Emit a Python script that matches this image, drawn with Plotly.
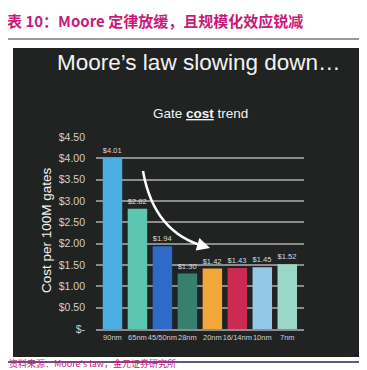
import plotly.graph_objects as go

nodes = ["90nm", "65nm", "45/50nm", "28nm", "20nm", "16/14nm", "10nm", "7nm"]
cost = [4.01, 2.82, 1.94, 1.30, 1.42, 1.43, 1.45, 1.52]
bar_colors = ["#4aafe0", "#5cc6b1", "#2e6ac6", "#36806f", "#f2a73a", "#cd2a52", "#94c8e9", "#9bd7c9"]
y_tickvals = [0, 0.5, 1.0, 1.5, 2.0, 2.5, 3.0, 3.5, 4.0, 4.5]
y_ticktext = ["$-", "$0.50", "$1.00", "$1.50", "$2.00", "$2.50", "$3.00", "$3.50", "$4.00", "$4.50"]

W, H = 367, 370
L, R, T, B = 88, 296, 129, 321


def fx(px):
    return (px - L) / (R - L)


def fy(py):
    return (B - py) / (B - T)


FONT = "Liberation Sans, Arial, sans-serif"
CJK = "Noto Sans CJK SC, sans-serif"
MAG = "#c8197c"

fig = go.Figure()
fig.add_trace(go.Bar(
    x=nodes, y=cost, marker=dict(color=bar_colors, line=dict(width=0)),
    width=0.78,
    texttemplate="$%{y:.2f}", textposition="outside",
    textfont=dict(size=8, color="#d8d8d8", family=FONT),
    cliponaxis=False, hoverinfo="skip",
))

shapes = [
    dict(type="rect", xref="paper", yref="paper", x0=fx(5), x1=fx(370), y0=fy(349), y1=fy(40),
         fillcolor="#212322", line=dict(width=0), layer="below"),
    dict(type="line", xref="paper", yref="paper", x0=fx(0), x1=fx(367), y0=fy(31), y1=fy(31),
         line=dict(color="#9a9a9a", width=2), layer="below"),
    dict(type="line", xref="paper", yref="paper", x0=fx(0), x1=fx(367), y0=fy(354), y1=fy(354),
         line=dict(color="#5c5c7c", width=2), layer="below"),
    dict(type="path", xref="paper", yref="paper",
         path=f"M {fx(135)},{fy(163)} Q {fx(146)},{fy(226)} {fx(199)},{fy(239)}",
         line=dict(color="white", width=2.5), layer="above"),
]

annotations = [
    dict(text="<b>表 10：Moore 定律放缓，且规模化效应锐减</b>", xref="paper", yref="paper",
         x=fx(-3), y=fy(13), xanchor="left", yanchor="middle", showarrow=False,
         font=dict(size=15, color=MAG, family=CJK)),
    dict(text="资料来源：Moore's law，金元证券研究所", xref="paper", yref="paper",
         x=fx(0), y=fy(363), xanchor="left", yanchor="bottom", showarrow=False,
         borderpad=0, font=dict(size=9, color=MAG, family=CJK)),
    dict(text="Moore’s law slowing down…", xref="paper", yref="paper",
         x=fx(190), y=fy(55), xanchor="center", yanchor="middle", showarrow=False,
         font=dict(size=22.5, color="#f2f2f2", family=FONT)),
    dict(text="Gate <b><u>cost</u></b> trend", xref="paper", yref="paper",
         x=fx(192), y=fy(105), xanchor="center", yanchor="middle", showarrow=False,
         font=dict(size=13.5, color="#f2f2f2", family=FONT)),
    dict(text="Cost per 100M gates", xref="paper", yref="paper",
         x=fx(38), y=fy(222), xanchor="center", yanchor="middle", showarrow=False,
         textangle=-90, font=dict(size=13.5, color="#f2f2f2", family=FONT)),
    dict(text="", xref="paper", yref="paper", x=fx(202), y=fy(240),
         ax=-10, ay=-3, showarrow=True, arrowhead=2, arrowsize=1.3, arrowwidth=2,
         arrowcolor="white"),
]

fig.update_layout(
    width=W, height=H,
    margin=dict(l=L, r=W - R, t=T, b=H - B, pad=0),
    paper_bgcolor="white", plot_bgcolor="rgba(0,0,0,0)",
    showlegend=False, shapes=shapes, annotations=annotations,
    bargap=0.22,
)
fig.update_xaxes(
    range=[-0.66, 7.67], showgrid=False, showline=True, linecolor="#8c8c8c", linewidth=2,
    tickfont=dict(size=7.5, color="#d0d0d0", family=FONT), ticks="", tickangle=0,
    fixedrange=True,
)
fig.update_yaxes(
    range=[0, 4.5], tickvals=y_tickvals, ticktext=y_ticktext,
    showgrid=True, gridcolor="#8c8c8c", gridwidth=1.5, zeroline=False,
    tickfont=dict(size=10.5, color="#d0d0d0", family=FONT), ticks="",
    ticklabelstandoff=10, fixedrange=True,
)

fig.write_html("out.html")
